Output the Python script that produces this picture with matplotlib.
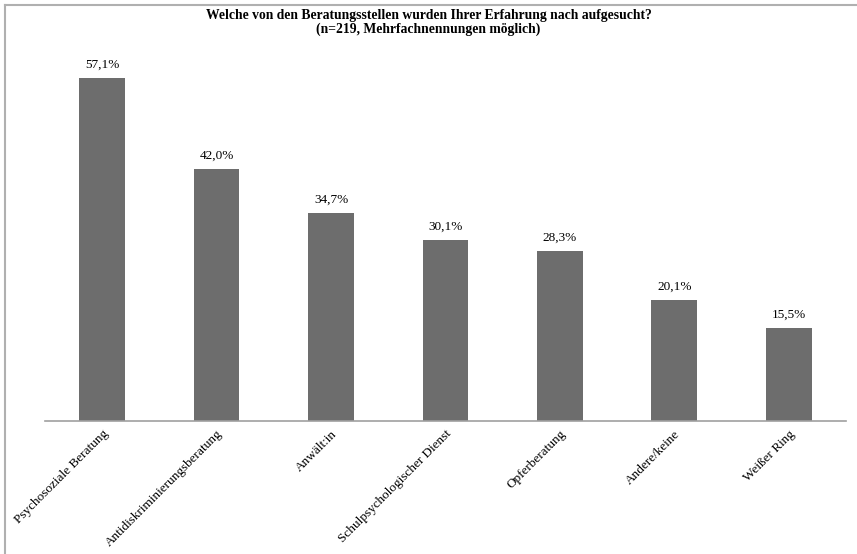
import matplotlib.pyplot as plt
import numpy as np

plt.rcParams['font.family'] = ['Liberation Serif', 'DejaVu Serif']

stellen = ['Psychosoziale Beratung', 'Antidiskriminierungsberatung', 'Anwält:in',
           'Schulpsychologischer Dienst', 'Opferberatung', 'Andere/keine', 'Weißer Ring']
anteile = [57.1, 42.0, 34.7, 30.1, 28.3, 20.1, 15.5]

fig = plt.figure(figsize=(8.57, 5.54), dpi=100)
ax = fig.add_axes([0.0525, 0.240, 0.9345, 0.650])

x = np.arange(len(stellen))
ax.bar(x, anteile, width=0.4, color='#6d6d6d')
for xi, v in zip(x, anteile):
    ax.text(xi, v + 1.2, f'{v:.1f}%'.replace('.', ','), ha='center', va='bottom', fontsize=9.5)

ax.set_xlim(-0.5, len(stellen) - 0.5)
ax.set_ylim(0, 60)
ax.set_xticks(x)
ax.set_xticklabels(stellen, rotation=45, ha='right', rotation_mode='anchor', fontsize=9.5)
ax.tick_params(axis='x', length=0, pad=5)
ax.set_yticks([])
for s in ['top', 'right', 'left']:
    ax.spines[s].set_visible(False)
ax.spines['bottom'].set_color('#a0a0a0')
ax.spines['bottom'].set_linewidth(1.2)

fig.text(0.5, 0.984, 'Welche von den Beratungsstellen wurden Ihrer Erfahrung nach aufgesucht?\n(n=219, Mehrfachnennungen möglich)',
         ha='center', va='top', fontsize=9.8, fontweight='bold', linespacing=1.05)

# Rahmen oben und links
fig.add_artist(plt.Line2D([5 / 857, 5 / 857], [0, 1 - 5 / 554], transform=fig.transFigure, color='#b0b0b0', lw=1.5))
fig.add_artist(plt.Line2D([5 / 857, 856 / 857], [1 - 5 / 554, 1 - 5 / 554], transform=fig.transFigure, color='#b0b0b0', lw=1.5))

fig.savefig('out.png', dpi=100)
